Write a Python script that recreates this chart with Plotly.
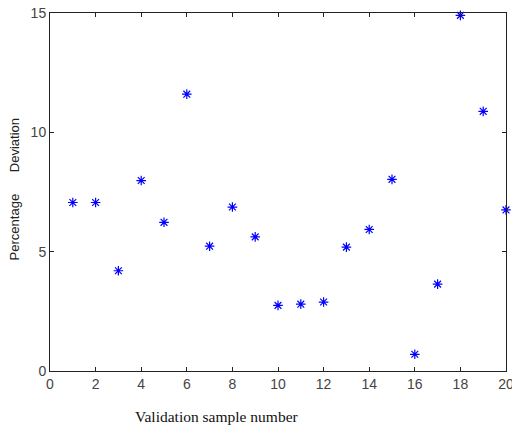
import plotly.graph_objects as go

samples = list(range(1, 21))
deviation = [7.06, 7.06, 4.20, 7.98, 6.23, 11.60, 5.23, 6.87, 5.62, 2.75,
             2.80, 2.89, 5.19, 5.93, 8.03, 0.70, 3.64, 14.90, 10.88, 6.75]
x_ticks = [0, 2, 4, 6, 8, 10, 12, 14, 16, 18, 20]
y_ticks = [0, 5, 10, 15]

fig = go.Figure()
fig.add_trace(go.Scatter(
    x=samples, y=deviation, mode="markers",
    marker=dict(symbol="asterisk-open", size=8, color="#0000ff",
                line=dict(color="#0000ff", width=1.2)),
    cliponaxis=False, showlegend=False))

axis_common = dict(showgrid=False, zeroline=False, showline=True, linecolor="#222",
                   linewidth=1, mirror="ticks", ticks="inside", ticklen=4,
                   tickcolor="#222", ticklabeloverflow="allow", automargin=False,
                   tickfont=dict(family="Arial, Liberation Sans", size=14, color="#444"))
fig.update_xaxes(range=[0, 20], tickvals=x_ticks, **axis_common)
fig.update_yaxes(range=[0, 15], tickvals=y_ticks, **axis_common)

fig.add_annotation(text="Validation sample number", xref="paper", yref="paper",
                   x=0.367, y=-0.126, showarrow=False, xanchor="center", yanchor="middle",
                   font=dict(family="Times New Roman, Liberation Serif", size=15.5, color="#111"))
fig.add_annotation(text="Percentage&nbsp;&nbsp;&nbsp;&nbsp;&nbsp;&nbsp;Deviation", xref="paper", yref="paper",
                   x=-0.077, y=0.507, showarrow=False, textangle=-90, xanchor="center", yanchor="middle",
                   font=dict(family="Arial, Liberation Sans", size=13, color="#222"))

fig.update_layout(width=512, height=428, plot_bgcolor="white", paper_bgcolor="white",
                  margin=dict(l=50, r=6, t=13, b=57))
fig.write_html("out.html", config={"displayModeBar": False},
               post_script="document.body.style.margin='0';document.body.style.overflow='hidden';")
